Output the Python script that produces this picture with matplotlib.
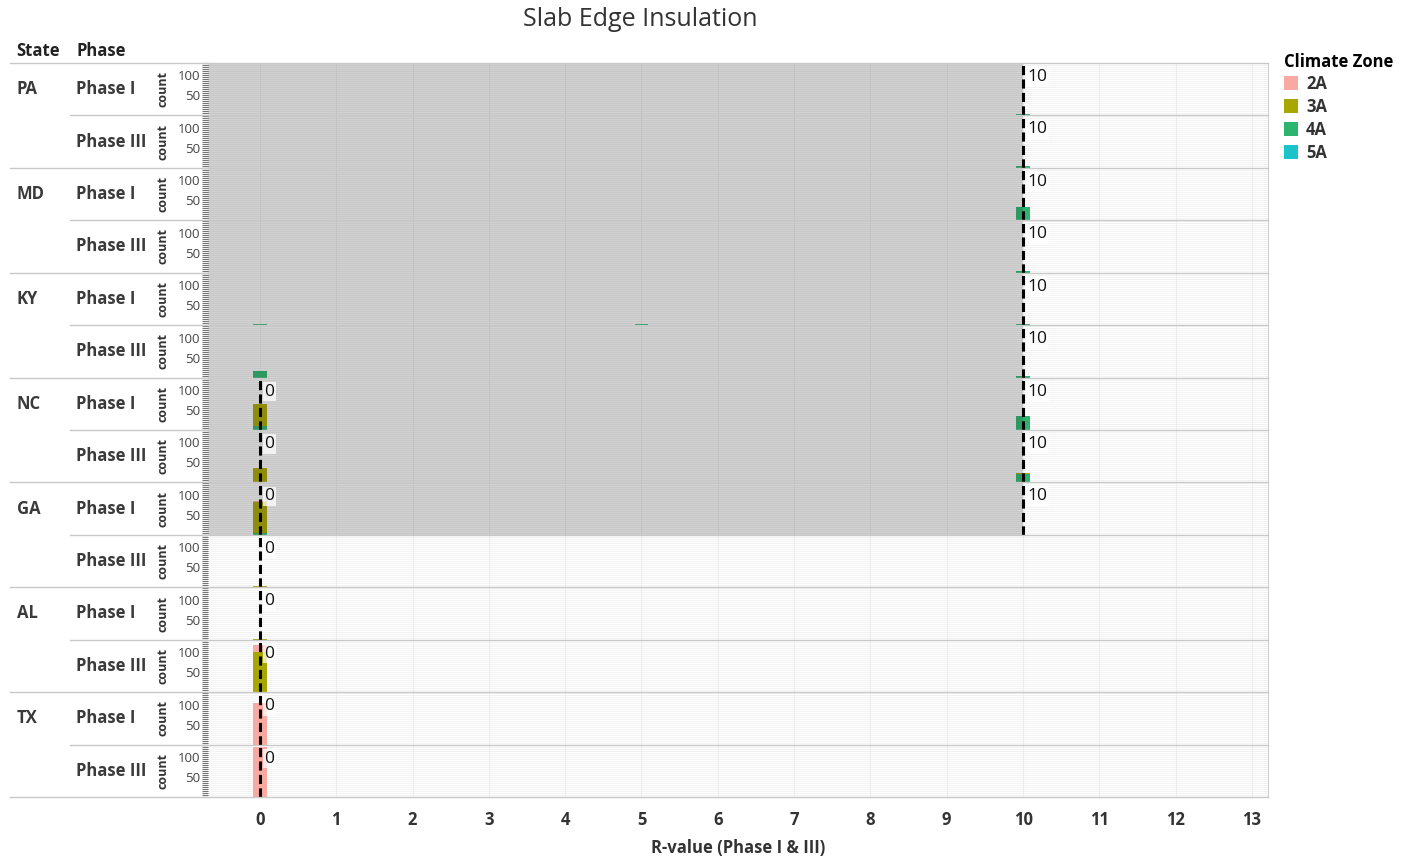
import numpy as np
import matplotlib
matplotlib.use("Agg")
import matplotlib.pyplot as plt
from matplotlib.lines import Line2D
from matplotlib.patches import Patch

plt.rcParams['font.family'] = ['Open Sans', 'DejaVu Sans']

# data
states = ["PA", "MD", "KY", "NC", "GA", "AL", "TX"]
phases = ["Phase I", "Phase III"]
zones = ["2A", "3A", "4A", "5A"]
zone_colors = ["#F8A9A2", "#A8A600", "#2DB56F", "#1BC4C8"]
r_values = [0, 5, 10]

# counts per panel (PA I, PA III, MD I, ... TX III) at R = 0, 5, 10
count_2a = [[0, 0, 0], [0, 0, 0], [0, 0, 0], [0, 0, 0], [0, 0, 0], [0, 0, 0], [0, 0, 0],
            [0, 0, 0], [3, 0, 0], [0, 0, 0], [0, 0, 0], [17, 0, 0], [105, 0, 0], [125, 0, 0]]
count_3a = [[0, 0, 0], [0, 0, 0], [0, 0, 0], [0, 0, 0], [0, 0, 0], [0, 0, 0], [55, 0, 0],
            [37, 0, 3], [77, 0, 0], [3, 0, 0], [3, 0, 0], [100, 0, 0], [0, 0, 0], [0, 0, 0]]
count_4a = [[0, 0, 4], [0, 0, 4], [0, 0, 32], [0, 0, 4], [3, 3, 3], [17, 0, 3], [10, 0, 35],
            [0, 0, 20], [5, 0, 0], [0, 0, 0], [0, 0, 0], [0, 0, 0], [0, 0, 0], [0, 0, 0]]
count_5a = [[0, 0, 0]] * 14

# reference lines and band per panel
ref_lines = [[10], [10], [10], [10], [10], [10], [0, 10], [0, 10], [0, 10], [0], [0], [0], [0], [0]]
band_upper = [10, 10, 10, 10, 10, 10, 10, 10, 10, None, None, None, None, None]

x_ticks = list(range(0, 14))

W, H = 1405, 860
fig = plt.figure(figsize=(W / 100, H / 100), dpi=100)

left_px, right_px = 208, 1268
top_px, bot_px = 63, 797
n_rows = len(states) * len(phases)
row_h = (bot_px - top_px) / n_rows
xlim = (-0.68, 13.21)
ylim = (0, 131)

# stacking order bottom -> top: 4A, 3A, 2A, 5A
stack = [(count_4a, zone_colors[2]), (count_3a, zone_colors[1]),
         (count_2a, zone_colors[0]), (count_5a, zone_colors[3])]

axes = []
for i in range(n_rows):
    y0 = top_px + i * row_h
    ax = fig.add_axes([left_px / W, 1 - (y0 + row_h) / H, (right_px - left_px) / W, row_h / H])
    ax.set_xlim(*xlim)
    ax.set_ylim(*ylim)
    for s in ["top", "bottom", "left"]:
        ax.spines[s].set_visible(False)
    ax.spines["right"].set_color("#D0D0D0")

    # background grid
    for g in np.arange(5, 131, 5):
        ax.axhline(g, color="#F0F0F0", lw=0.6, zorder=0)
    for g in x_ticks:
        ax.axvline(g, color="#EDEDED", lw=0.8, zorder=0)

    bottom = np.zeros(len(r_values))
    for counts, col in stack:
        vals = np.array(counts[i], dtype=float)
        ax.bar(r_values, vals, width=0.18, bottom=bottom, color=col, zorder=2, linewidth=0)
        bottom += vals

    if band_upper[i] is not None:
        ax.axvspan(xlim[0], band_upper[i], color="#323232", alpha=0.22, lw=0, zorder=3)

    for v in ref_lines[i]:
        ax.axvline(v, color="black", lw=2.2, linestyle=(0, (3, 1.4)), zorder=4)
        ax.text(v + 0.06, 96, str(v), fontsize=12.5, color="#111111", va="center", ha="left", zorder=5,
                bbox=dict(boxstyle="square,pad=0.1", fc="white", ec="none", alpha=0.75))

    ax.set_yticks([50, 100])
    ax.set_yticks(np.arange(0, 131, 5), minor=True)
    ax.tick_params(axis="y", which="both", length=4, width=0.8, color="#777777",
                   labelsize=9.5, labelcolor="#444444", pad=1.5)
    ax.set_xticks(x_ticks)
    if i < n_rows - 1:
        ax.tick_params(axis="x", length=0, labelbottom=False)
    else:
        ax.tick_params(axis="x", length=0, labelsize=12, labelcolor="#333333", pad=10)
        for lab in ax.get_xticklabels():
            lab.set_fontweight("bold")
        ax.set_xlabel("R-value (Phase I & III)", fontsize=12, fontweight="bold",
                      color="#333333", labelpad=7)
    axes.append(ax)

    yc = 1 - (y0 + row_h / 2) / H
    fig.text(163 / W, yc, "count", rotation=90, fontsize=9, fontweight="bold",
             color="#333333", ha="center", va="center")
    fig.text(76 / W, yc, phases[i % 2], fontsize=12, fontweight="bold",
             color="#3a3a3a", ha="left", va="center")
    if i % 2 == 0:
        fig.text(17 / W, yc, states[i // 2], fontsize=12, fontweight="bold",
                 color="#3a3a3a", ha="left", va="center")

# row separators
for i in range(n_rows + 1):
    yy = 1 - (top_px + i * row_h) / H
    x_start = 10 if i % 2 == 0 else 70
    fig.add_artist(Line2D([x_start / W, right_px / W], [yy, yy], color="#C8C8C8", lw=1))

fig.text(16 / W, 1 - 51 / H, "State", fontsize=12, fontweight="bold", color="#222222", va="center")
fig.text(76 / W, 1 - 51 / H, "Phase", fontsize=12, fontweight="bold", color="#222222", va="center")
fig.text(640 / W, 1 - 20 / H, "Slab Edge Insulation", fontsize=18, color="#333333",
         ha="center", va="center")

handles = [Patch(facecolor=c, edgecolor="none") for c in zone_colors]
leg = fig.legend(handles, zones, loc="upper left", bbox_to_anchor=(1272 / W, 1 - 41 / H),
                 frameon=False, title="Climate Zone", fontsize=12, handlelength=0.85,
                 handleheight=0.85, handletextpad=0.5, labelspacing=0.3, alignment="left",
                 borderaxespad=0.3, title_fontproperties={"weight": "bold", "size": 12})
leg._legend_box.sep = 3
for t in leg.get_texts():
    t.set_fontweight("bold")
    t.set_color("#333333")

fig.savefig("out.png", dpi=100)
